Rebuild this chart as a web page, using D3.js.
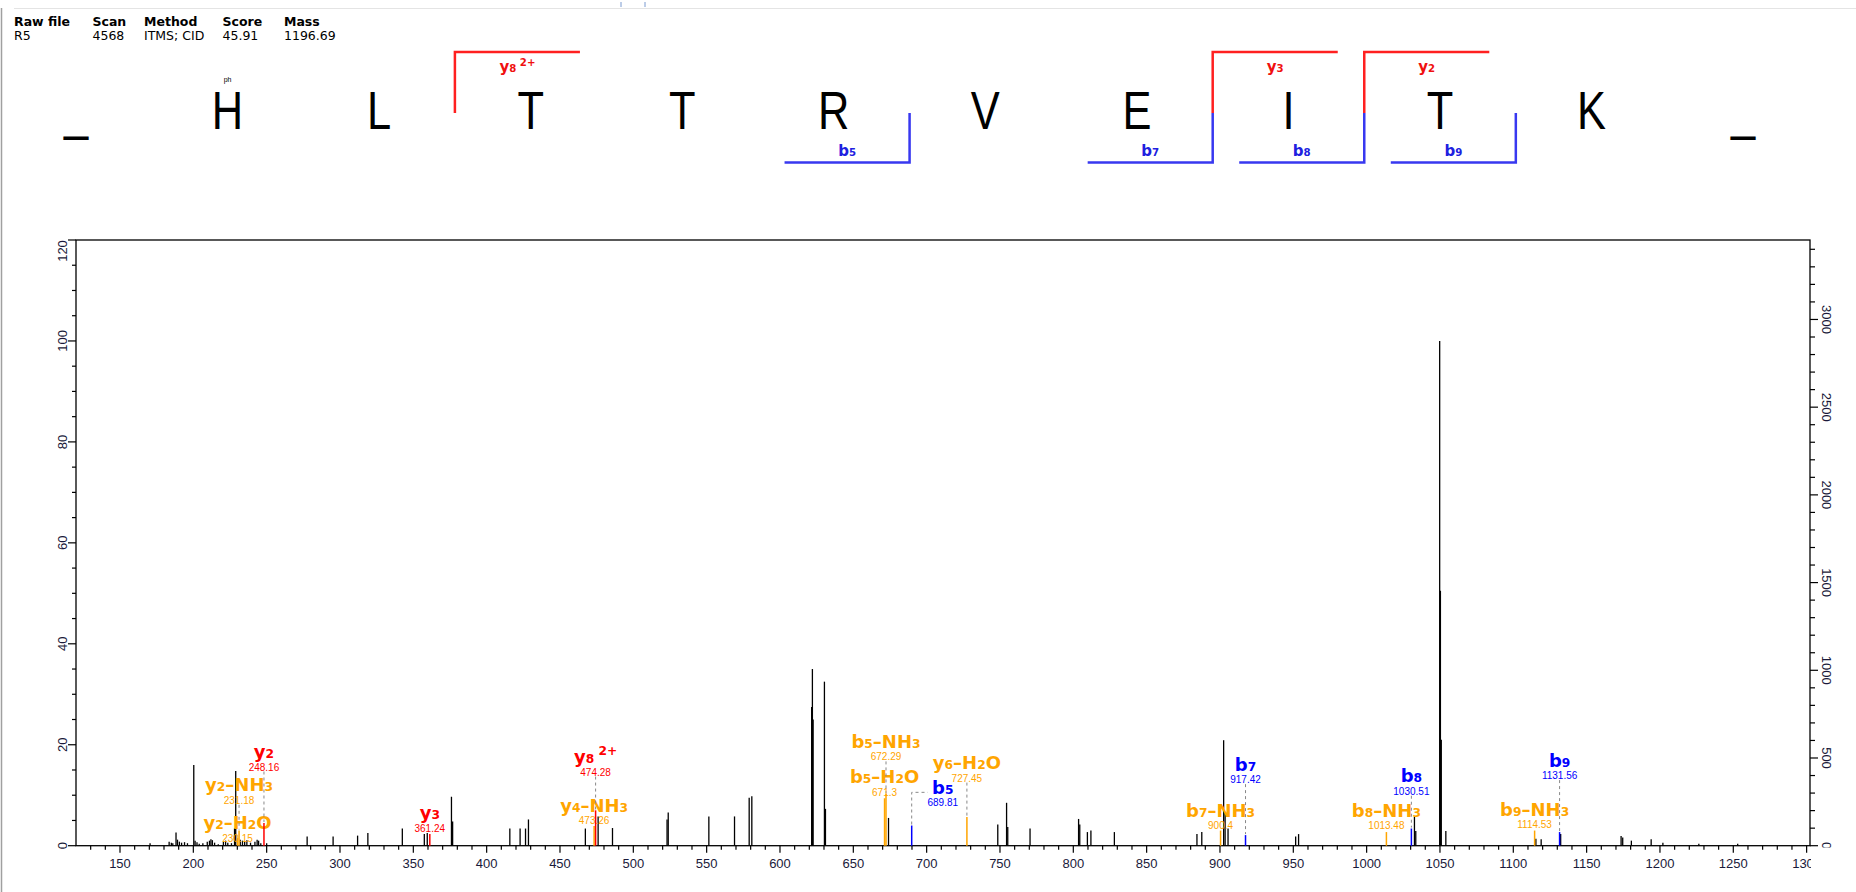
<!DOCTYPE html>
<html><head><meta charset="utf-8">
<script src="https://cdn.jsdelivr.net/npm/d3@7"></script>
<style>body{margin:0;background:#fff;overflow:hidden} svg{display:block}</style>
</head><body><svg id="c" width="1856" height="892"></svg>
<script>
// ---------------- data ----------------
const headerCols = ["Raw file", "Scan", "Method", "Score", "Mass"];
const headerVals = ["R5", "4568", "ITMS; CID", "45.91", "1196.69"];

const sequence = ["_", "H", "L", "T", "T", "R", "V", "E", "I", "T", "K", "_"];
const modSites = [1];
const modLabels = ["ph"];
const peptideLength = 10;
const bIonsSeq = [5, 7, 8, 9];
const yIonsSeq = [8, 3, 2];
const yIonsSeqCharge = [2, 1, 1];

// unannotated peaks (m/z, relative intensity %)
const peakMz = [170.5, 183.5, 185, 186, 188.2, 189.2, 190.5, 192, 194, 196, 200.3, 201.2, 202.5, 204, 206.5,
  209.5, 211, 212, 213, 214.5, 217, 220.5, 222, 223.5, 226, 228.1, 228.9, 232, 233.5, 235, 236.5, 239, 242,
  243.5, 244.5, 246, 250, 277.6, 295.3, 312, 319, 342.5, 357.5, 359.5, 376, 376.8, 415.8, 422.8, 426.5, 428.5,
  467.3, 476, 485.8, 523, 523.8, 551.5, 569, 579, 580.8, 621.6, 622.1, 622.6, 630.3, 631, 674, 748.5, 754.5,
  755.3, 770.5, 803.6, 804.4, 809.6, 812, 828, 884.3, 887.6, 902.5, 903.5, 905.5, 951.6, 953.6, 1032.6,
  1033.5, 1049.8, 1050.3, 1050.9, 1054, 1115.4, 1119, 1132.3, 1173.5, 1174.6, 1180.5, 1194, 1202, 1226.5, 1253];
const peakInt = [0.5, 0.8, 0.6, 0.5, 2.6, 1.2, 0.8, 0.6, 0.7, 0.5, 16, 1.0, 0.7, 0.4, 0.5,
  0.8, 1.0, 1.3, 1.1, 0.6, 0.3, 0.8, 1.0, 0.6, 0.5, 3.4, 14.8, 1.2, 1.0, 0.8, 1.1, 0.6, 0.8,
  1.2, 1.0, 0.5, 0.5, 1.8, 1.8, 2.0, 2.5, 3.4, 2.3, 2.5, 9.7, 4.8, 3.4, 3.4, 3.4, 5.2,
  3.4, 5.8, 3.5, 5.2, 6.6, 5.8, 5.8, 9.5, 9.8, 27.5, 35, 25, 32.5, 7.3, 5.5, 4.2, 8.5,
  3.7, 3.4, 5.3, 4.2, 2.7, 3.0, 2.7, 2.3, 2.7, 20.9, 6.5, 3.4, 1.8, 2.3, 5.7,
  2.9, 100, 50.5, 21, 2.9, 1.4, 1.3, 2.3, 1.9, 1.6, 1.0, 1.3, 0.6, 0.4, 0.4];

// annotated fragment ions
const annIon    = ["y2", "y2", "y2", "y3", "y4", "y8", "b5", "b5", "b5", "y6", "b7", "b7", "b8", "b8", "b9", "b9"];
const annLoss   = ["H2O", "NH3", "", "", "NH3", "", "H2O", "NH3", "", "H2O", "NH3", "", "NH3", "", "NH3", ""];
const annCharge = [1, 1, 1, 1, 1, 2, 1, 1, 1, 1, 1, 1, 1, 1, 1, 1];
const annMz     = [230.15, 231.18, 248.16, 361.24, 473.26, 474.28, 671.3, 672.29, 689.81, 727.45, 900.4, 917.42, 1013.48, 1030.51, 1114.53, 1131.56];
const annInt    = [1.5, 3.0, 4.5, 2.3, 3.9, 7.0, 9.4, 10.3, 4.0, 5.7, 3.0, 2.1, 2.7, 3.4, 3.0, 2.7];
// label anchor (in intensity %) and label m/z centre
const annLevel  = [0.6, 8.1, 14.7, 2.6, 4.1, 13.7, 9.7, 16.7, 7.6, 12.5, 3.1, 12.2, 3.1, 9.9, 3.3, 13.0];
const annLabelMz = [230.15, 231.18, 248.16, 361.24, 473.26, 474.28, 671.3, 672.29, 711.0, 727.45, 900.4, 917.42, 1013.48, 1030.51, 1114.53, 1131.56];

const xTickMajor = d3.range(150, 1301, 50);
const xTickMinor = d3.range(130, 1301, 10);
const yTickMajor = d3.range(0, 121, 20);
const yTickMinor = d3.range(0, 121, 5);
const rTickMajor = d3.range(0, 3001, 500);
const rTickMinor = d3.range(0, 3401, 100);

// ---------------- layout ----------------
const svg = d3.select("#c");
const L = 76, R = 1810, T = 240, B = 845.7;
const x = d3.scaleLinear().domain([120, 1302.3]).range([L, R]);
const y = d3.scaleLinear().domain([0, 120]).range([B, T]);
const yR = d3.scaleLinear().domain([0, 3453]).range([B, T]);
const seqX = d3.scaleLinear().domain([0, sequence.length - 1]).range([76, 76 + 151.56 * (sequence.length - 1)]);
const colors = {y: "#FF0000", b: "#0000FF", loss: "#FFA500"};
const tickFont = "'Liberation Sans', Arial, sans-serif";
const uiFont = "'DejaVu Sans', Tahoma, sans-serif";

// window chrome
svg.append("line").attr("x1", 14).attr("x2", 1856).attr("y1", 8.5).attr("y2", 8.5).attr("stroke", "#e4e4e4");
svg.append("line").attr("x1", 1.5).attr("x2", 1.5).attr("y1", 8).attr("y2", 892).attr("stroke", "#a0a0a0").attr("stroke-width", 1.5);
[621, 645].forEach(px => svg.append("line").attr("x1", px).attr("x2", px).attr("y1", 2).attr("y2", 7).attr("stroke", "#7a9ad0"));

// header table
const colX = [14, 92.5, 144, 222.5, 284];
headerCols.forEach((t, i) => svg.append("text").attr("x", colX[i]).attr("y", 26).attr("font-family", uiFont)
  .attr("font-weight", "bold").attr("font-size", 12.5).attr("fill", "#000").text(t));
headerVals.forEach((t, i) => svg.append("text").attr("x", colX[i]).attr("y", 40).attr("font-family", uiFont)
  .attr("font-size", 12.5).attr("fill", "#000").text(t));

// rich ion label helper
function ionText(g, ion, loss, charge, size, weight) {
  const t = g.append("text").attr("font-family", uiFont).attr("font-weight", weight).attr("font-size", size);
  let off = 0;
  const span = (txt, small, shift) => {
    const d = shift - off; off = shift;
    t.append("tspan").attr("font-size", small ? size * 0.68 : size).attr("dy", d).text(txt);
  };
  span(ion[0], false, 0);
  span(ion.slice(1), true, 0);
  if (charge > 1) span(" " + charge + "+", true, -size * 0.42);
  if (loss) {
    span("\u2013", false, 0);
    loss.split("").forEach(ch => span(ch, /\d/.test(ch), 0));
  }
  return t;
}

// sequence
const seqG = svg.append("g");
sequence.forEach((aa, i) => {
  seqG.append("text").attr("transform", `translate(${seqX(i)},129) scale(0.82,1)`)
    .attr("text-anchor", "middle").attr("font-family", tickFont).attr("font-size", 53).attr("fill", "#000").text(aa);
});
modSites.forEach((s, i) => seqG.append("text").attr("x", seqX(s)).attr("y", 82).attr("text-anchor", "middle")
  .attr("font-family", tickFont).attr("font-size", 7).attr("fill", "#000").text(modLabels[i]));
const half = seqX(1) - seqX(0);
const bw = half * 0.825;
bIonsSeq.forEach(n => {
  const bx = (seqX(n) + seqX(n + 1)) / 2;
  seqG.append("path").attr("d", `M${bx},113V162.5H${bx - bw}`).attr("fill", "none").attr("stroke", "#3838F0").attr("stroke-width", 2.5);
  ionText(seqG, "b" + n, "", 1, 15, "bold").attr("x", bx - bw / 2).attr("y", 156).attr("text-anchor", "middle").attr("fill", "#2020E0");
});
yIonsSeq.forEach((n, i) => {
  const k = peptideLength - n;
  const bx = (seqX(k) + seqX(k + 1)) / 2;
  seqG.append("path").attr("d", `M${bx},113V52H${bx + bw}`).attr("fill", "none").attr("stroke", "#FF2020").attr("stroke-width", 2.5);
  ionText(seqG, "y" + n, "", yIonsSeqCharge[i], 15, "bold").attr("x", bx + bw / 2).attr("y", 72).attr("text-anchor", "middle").attr("fill", "#F01010");
});

// plot frame
const plot = svg.append("g");
plot.append("rect").attr("x", L).attr("y", T).attr("width", R - L).attr("height", B - T).attr("fill", "none").attr("stroke", "#000").attr("stroke-width", 1.3);

svg.append("defs").html(`<clipPath id="bclip"><rect x="0" y="846" width="1811" height="46"/></clipPath>
<clipPath id="rclip"><rect x="1811" y="0" width="45" height="847.5"/></clipPath>`);

// bottom axis
const ax = plot.append("g");
xTickMinor.forEach(v => ax.append("line").attr("x1", x(v)).attr("x2", x(v)).attr("y1", B).attr("y2", B + (v % 50 === 0 ? 7 : 4)).attr("stroke", "#000").attr("stroke-width", 1.2));
const axl = ax.append("g").attr("clip-path", "url(#bclip)");
xTickMajor.forEach(v => axl.append("text").attr("x", x(v)).attr("y", 867.5).attr("text-anchor", "middle")
  .attr("font-family", tickFont).attr("font-size", 13).attr("fill", "#1a1a3a").text(v));

// left axis
yTickMinor.forEach(v => ax.append("line").attr("x1", L).attr("x2", L - (v % 20 === 0 ? 8 : 4)).attr("y1", y(v)).attr("y2", y(v)).attr("stroke", "#000").attr("stroke-width", 1.2));
yTickMajor.forEach(v => {
  const cy = Math.max(y(v), T + 11);
  ax.append("text").attr("transform", `translate(62,${cy}) rotate(-90)`).attr("text-anchor", "middle").attr("dominant-baseline", "central")
    .attr("font-family", tickFont).attr("font-size", 13).attr("fill", "#1a1a3a").text(v);
});

// right axis
rTickMinor.forEach(v => ax.append("line").attr("x1", R).attr("x2", R + (v % 500 === 0 ? 8 : 5)).attr("y1", yR(v)).attr("y2", yR(v)).attr("stroke", "#000").attr("stroke-width", 1.2));
const arl = ax.append("g").attr("clip-path", "url(#rclip)");
rTickMajor.forEach(v => arl.append("text").attr("transform", `translate(1826,${yR(v)}) rotate(90)`).attr("text-anchor", "middle").attr("dominant-baseline", "central")
  .attr("font-family", tickFont).attr("font-size", 13).attr("fill", "#1a1a3a").text(v));

// peaks
const peaks = peakMz.map((m, i) => ({m, v: peakInt[i]}));
plot.append("g").selectAll("line").data(peaks).join("line")
  .attr("x1", d => x(d.m)).attr("x2", d => x(d.m)).attr("y1", B).attr("y2", d => y(d.v))
  .attr("stroke", "#000").attr("stroke-width", 1.3);

const ann = annMz.map((m, i) => ({m, v: annInt[i], ion: annIon[i], loss: annLoss[i], z: annCharge[i], lvl: annLevel[i], lm: annLabelMz[i]}));
const colOf = d => d.loss ? colors.loss : (d.ion[0] === "y" ? colors.y : colors.b);
const ag = plot.append("g");
ann.forEach(d => {
  const c = colOf(d);
  ag.append("line").attr("x1", x(d.m)).attr("x2", x(d.m)).attr("y1", B).attr("y2", y(d.v)).attr("stroke", c).attr("stroke-width", 1.5);
  const lx = x(d.lm);
  const anchor = y(d.lvl);
  if (d.lm !== d.m) {
    ag.append("path").attr("d", `M${x(d.m)},${y(d.v) - 1}V${anchor - 15}H${lx - 15}`).attr("fill", "none")
      .attr("stroke", "#888").attr("stroke-width", 1).attr("stroke-dasharray", "3,3");
  } else if (anchor < y(d.v) - 4) {
    ag.append("line").attr("x1", x(d.m)).attr("x2", x(d.m)).attr("y1", anchor).attr("y2", y(d.v) - 1)
      .attr("stroke", "#888").attr("stroke-width", 1).attr("stroke-dasharray", "3,3");
  }
  ag.append("text").attr("x", lx).attr("y", anchor - 1).attr("text-anchor", "middle").attr("font-family", tickFont)
    .attr("font-size", 10).attr("fill", c).text(d.m.toFixed(2).replace(/0$/, ""));
  ionText(ag, d.ion, d.loss, d.z, 18, "bold").attr("x", lx).attr("y", anchor - 13.5).attr("text-anchor", "middle").attr("fill", c);
});
</script>
</body></html>
